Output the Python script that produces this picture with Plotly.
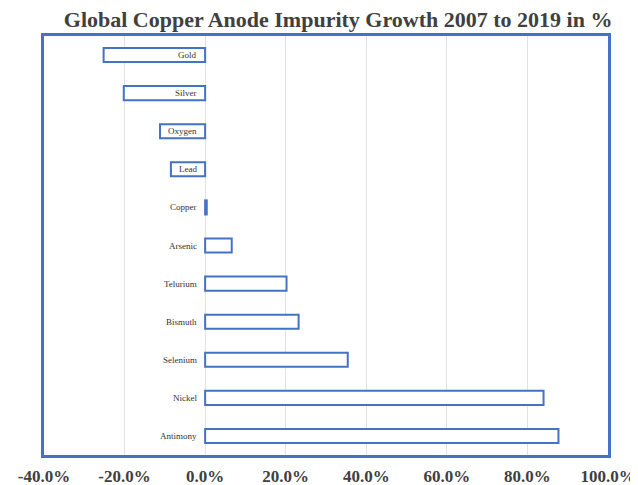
import plotly.graph_objects as go

categories = ["Gold", "Silver", "Oxygen", "Lead", "Copper", "Arsenic",
              "Telurium", "Bismuth", "Selenium", "Nickel", "Antimony"]
growth = [-25.2, -20.2, -11.2, -8.5, 0.4, 6.6, 20.2, 23.2, 35.4, 84.0, 87.7]
tick_vals = [-40, -20, 0, 20, 40, 60, 80, 100]
tick_text = ["-40.0%", "-20.0%", "0.0%", "20.0%", "40.0%", "60.0%", "80.0%", "100.0%"]

blue = "#4472C4"
serif = "Liberation Serif, Times New Roman, serif"

fig = go.Figure()
fig.add_trace(go.Bar(
    y=categories, x=growth, orientation="h",
    marker=dict(color="white", line=dict(color=blue, width=2)),
    width=0.37,
))

for c in categories:
    fig.add_annotation(x=0, y=c, xref="x", yref="y", text=c, showarrow=False,
                       xanchor="right", xshift=-6,
                       font=dict(family=serif, size=9, color="#333333"))

fig.update_layout(
    width=630, height=477,
    margin=dict(l=36, r=30, t=28, b=30, autoexpand=False),
    paper_bgcolor="white", plot_bgcolor="white",
    showlegend=False,
    title=dict(text="<b>Global Copper Anode Impurity Growth 2007 to 2019 in %</b>",
               x=0.524, xanchor="center", y=0.977, yanchor="middle",
               automargin=False,
               font=dict(family=serif, size=22, color="#404040")),
    xaxis=dict(range=[-40, 100], tickvals=tick_vals, ticktext=tick_text,
               showgrid=True, gridcolor="#e2e2e2", gridwidth=1, zeroline=False,
               showline=True, linecolor=blue, linewidth=2.5, mirror=True,
               ticks="outside", ticklen=4, tickcolor="rgba(0,0,0,0)",
               tickfont=dict(family=serif, size=17, color="#404040", weight="bold"),
               automargin=False, fixedrange=True),
    yaxis=dict(categoryorder="array", categoryarray=categories, autorange="reversed",
               showticklabels=False, showgrid=False, zeroline=False,
               showline=True, linecolor=blue, linewidth=2.5, mirror=True,
               automargin=False, fixedrange=True),
)

fig.write_html("out.html")
